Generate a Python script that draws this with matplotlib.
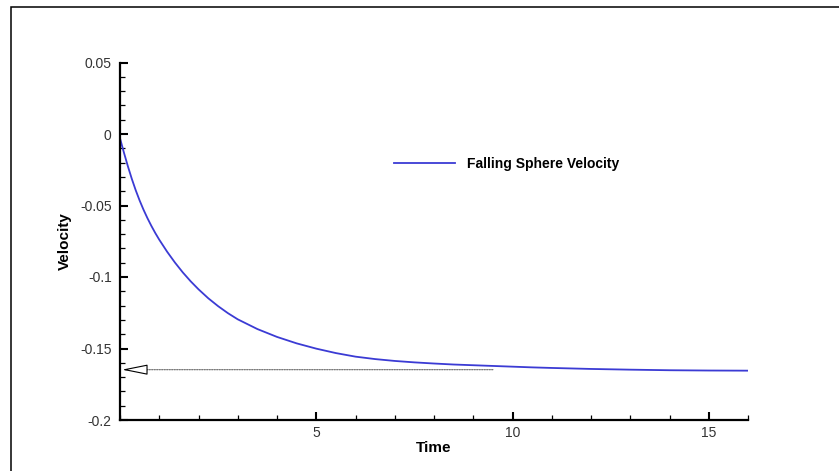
import matplotlib
matplotlib.use("Agg")
import matplotlib.pyplot as plt
from matplotlib.patches import Rectangle
from matplotlib.ticker import MultipleLocator


# velocity of the falling sphere over time
time = [0.0, 0.1, 0.2, 0.3, 0.4, 0.5, 0.6, 0.7, 0.8, 0.9, 1.0, 1.2, 1.4, 1.6,
        1.8, 2.0, 2.25, 2.5, 2.75, 3.0, 3.5, 4.0, 4.5, 5.0, 5.5, 6.0, 6.5, 7.0,
        7.5, 8.0, 8.5, 9.0, 9.5, 10.0, 10.5, 11.0, 12.0, 13.0, 14.0, 15.0, 16.0]
velocity = [-0.003, -0.013, -0.0225, -0.0313, -0.0393, -0.0465, -0.053, -0.0589,
            -0.0643, -0.0693, -0.0739, -0.0823, -0.0899, -0.0968, -0.103,
            -0.1086, -0.1149, -0.1204, -0.1253, -0.1296, -0.1364, -0.1419,
            -0.1464, -0.1501, -0.1532, -0.1557, -0.1574, -0.1587, -0.1597,
            -0.1605, -0.1612, -0.1617, -0.1622, -0.1627, -0.1632, -0.1636,
            -0.1643, -0.1648, -0.1652, -0.1654, -0.1655]

# terminal velocity marker
terminal_velocity = -0.1648
marker_end_time = 9.5

x_ticks = [5, 10, 15]
y_ticks = [-0.2, -0.15, -0.1, -0.05, 0, 0.05]
y_tick_labels = ["-0.2", "-0.15", "-0.1", "-0.05", "0", "0.05"]

plt.rcParams["font.family"] = ["Liberation Sans", "DejaVu Sans"]

fig = plt.figure(figsize=(8.39, 4.71), dpi=100)
ax = fig.add_axes([120 / 839, 51 / 471, 628 / 839, 357.5 / 471])

# page frame
fig.patches.append(Rectangle((11 / 839, -0.1), 2.0, 1 - 7 / 471 + 0.1,
                             transform=fig.transFigure, fill=False,
                             edgecolor="black", linewidth=1.1))

ax.plot(time, velocity, color="#3b3bd4", linewidth=1.3,
        label="Falling Sphere Velocity")

# dotted line with open arrowhead pointing at the axis
ax.annotate("", xy=(0.5, terminal_velocity), xytext=(marker_end_time, terminal_velocity),
            arrowprops=dict(arrowstyle="-", color="#777777",
                            linestyle=(0, (1, 1)), linewidth=0.9,
                            shrinkA=0, shrinkB=0))
ax.annotate("", xy=(0.05, terminal_velocity), xytext=(0.58, terminal_velocity),
            arrowprops=dict(arrowstyle="-|>,head_length=1.6,head_width=0.32",
                            edgecolor="black", facecolor="white", linewidth=0.8,
                            shrinkA=0, shrinkB=0))

ax.set_xlim(0, 16)
ax.set_ylim(-0.2, 0.05)
ax.set_xticks(x_ticks)
ax.set_yticks(y_ticks)
ax.set_yticklabels(y_tick_labels)
ax.xaxis.set_minor_locator(MultipleLocator(1))
ax.yaxis.set_minor_locator(MultipleLocator(0.01))

for side in ["top", "right"]:
    ax.spines[side].set_visible(False)
for side in ["left", "bottom"]:
    ax.spines[side].set_linewidth(1.6)

ax.tick_params(which="major", direction="in", length=6, width=1.5,
               labelsize=10, labelcolor="#333333", pad=6)
ax.tick_params(which="minor", direction="in", length=3.6, width=0.9)
ax.tick_params(axis="x", which="major", pad=4)

ax.set_xlabel("Time", fontsize=11, fontweight="bold", labelpad=1)
ax.set_ylabel("Velocity", fontsize=11, fontweight="bold", labelpad=6)

ax.legend(loc="center left", bbox_to_anchor=(394 / 839, 1 - 164 / 471),
          bbox_transform=fig.transFigure, frameon=False, borderpad=0,
          borderaxespad=0, handlelength=4.4, handletextpad=0.85,
          prop={"size": 10, "weight": "bold"})

fig.savefig("out.png", dpi=100)
